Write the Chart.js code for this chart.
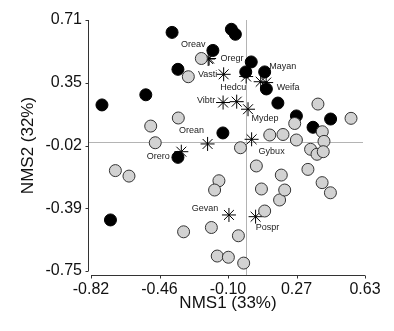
<!DOCTYPE html>
<html>
<head>
<meta charset="utf-8">
<script src="https://cdn.jsdelivr.net/npm/chart.js@4.4.1/dist/chart.umd.min.js"></script>
<style>
  html, body { margin: 0; padding: 0; background: #fff; }
</style>
</head>
<body>
<canvas id="nms" width="394" height="331"></canvas>
<script>
// plot scores, gray sites
const grayX = [-0.236, -0.305, -0.358, -0.504, -0.480, -0.691, -0.619, -0.143, -0.166, -0.330,
  -0.183, -0.040, -0.152, -0.093, -0.012, -0.029, 0.055, 0.082, 0.099, 0.178,
  0.205, 0.187, 0.126, 0.196, 0.267, 0.258, 0.381, 0.556, 0.404, 0.413,
  0.342, 0.376, 0.409, 0.328, 0.403, 0.447];
const grayY = [0.486, 0.380, 0.140, 0.093, -0.004, -0.166, -0.198, -0.225, -0.279, -0.522,
  -0.497, -0.545, -0.663, -0.670, -0.704, -0.033, -0.139, -0.273, -0.401, -0.337,
  -0.279, -0.192, 0.041, 0.044, 0.012, 0.108, 0.221, 0.138, 0.060, 0.004,
  -0.042, -0.071, -0.056, -0.159, -0.236, -0.295];

// plot scores, black sites
const blackX = [-0.391, -0.077, -0.056, -0.175, -0.360, -0.530, -0.762, 0.028, -0.001, 0.099,
  0.108, 0.169, 0.267, 0.448, 0.355, -0.122, -0.360, -0.717];
const blackY = [0.638, 0.656, 0.627, 0.533, 0.423, 0.275, 0.216, 0.466, 0.408, 0.408,
  0.309, 0.227, 0.152, 0.134, 0.086, 0.053, -0.089, -0.453];

// species scores
const speciesNames = ['Oreav', 'Oregr', 'Vasti', 'Hedcu', 'Mayan', 'Weifa', 'Vibtr', '', 'Mydep',
  'Orean', 'Orero', 'Gybux', 'Gevan', 'Pospr'];
const speciesX = [-0.200, -0.195, -0.118, 0.001, 0.078, 0.107, -0.121, -0.049, 0.011,
  -0.203, -0.342, 0.030, -0.090, 0.051];
const speciesY = [0.483, 0.486, 0.394, 0.381, 0.351, 0.346, 0.230, 0.235, 0.191,
  -0.011, -0.056, 0.016, -0.424, -0.434];

const xTicks = [-0.82, -0.4575, -0.095, 0.2675, 0.63];
const xTickLabels = ['-0.82', '-0.46', '-0.10', '0.27', '0.63'];
const yTicks = [-0.75, -0.385, -0.02, 0.345, 0.71];
const yTickLabels = ['-0.75', '-0.39', '-0.02', '0.35', '0.71'];

// where each species name sits relative to its star (px)
const labelOffsets = {
  Oreav: [-15, -15], Oregr: [23, 0], Vasti: [-16, 0], Hedcu: [-13, 11],
  Mayan: [22, -15], Weifa: [22, 5], Vibtr: [-17, -2], Mydep: [17, 9],
  Orean: [-16, -13], Orero: [-23, 5], Gybux: [20, 12], Gevan: [-24, -6], Pospr: [12, 11]
};

const FONT = '"Liberation Sans", Arial, sans-serif';
const toPoints = (xs, ys) => xs.map((v, i) => ({ x: v, y: ys[i] }));

const axesPlugin = {
  id: 'axesPlugin',
  beforeDatasetsDraw(chart) {
    const { ctx, chartArea: a, scales: { x, y } } = chart;
    const ax = Math.round(a.left) - 2.5;
    const ay = Math.round(a.bottom) + 4.5;
    // cross lines at 0, 0
    ctx.save();
    ctx.strokeStyle = '#b4b4b4';
    ctx.lineWidth = 1;
    ctx.beginPath();
    const zx = Math.round(x.getPixelForValue(0)) + 0.5;
    const zy = Math.round(y.getPixelForValue(0)) + 0.5;
    ctx.moveTo(ax, zy); ctx.lineTo(a.right - 2, zy);
    ctx.moveTo(zx, a.top); ctx.lineTo(zx, ay);
    ctx.stroke();
    // axes
    ctx.strokeStyle = '#333';
    ctx.beginPath();
    ctx.moveTo(ax, a.top); ctx.lineTo(ax, a.bottom);
    yTicks.forEach(v => {
      const py = Math.round(y.getPixelForValue(v)) + 0.5;
      ctx.moveTo(ax - 3, py); ctx.lineTo(ax, py);
    });
    ctx.moveTo(a.left, ay); ctx.lineTo(a.right, ay);
    xTicks.forEach(v => {
      const px = Math.round(x.getPixelForValue(v)) + 0.5;
      ctx.moveTo(px, ay); ctx.lineTo(px, ay + 3);
    });
    ctx.stroke();
    ctx.restore();
  },
  afterDatasetsDraw(chart) {
    const { ctx } = chart;
    const meta = chart.getDatasetMeta(2);
    ctx.save();
    ctx.font = '9px ' + FONT;
    ctx.fillStyle = '#222';
    ctx.textAlign = 'center';
    ctx.textBaseline = 'middle';
    meta.data.forEach((pt, i) => {
      const name = speciesNames[i];
      if (!name) return;
      const off = labelOffsets[name];
      ctx.fillText(name, pt.x + off[0], pt.y + off[1]);
    });
    ctx.restore();
  }
};

new Chart(document.getElementById('nms'), {
  type: 'scatter',
  data: {
    datasets: [
      {
        label: 'gray',
        data: toPoints(grayX, grayY),
        backgroundColor: '#d2d2d2',
        borderColor: '#333',
        borderWidth: 1,
        pointRadius: 6,
        order: 0
      },
      {
        label: 'black',
        data: toPoints(blackX, blackY),
        backgroundColor: '#000',
        borderColor: '#000',
        borderWidth: 1,
        pointRadius: 6,
        order: 1
      },
      {
        label: 'species',
        data: toPoints(speciesX, speciesY),
        pointStyle: 'star',
        backgroundColor: 'rgba(0,0,0,0)',
        borderColor: '#000',
        borderWidth: 1,
        pointRadius: 7,
        order: 2
      }
    ]
  },
  options: {
    responsive: false,
    animation: false,
    devicePixelRatio: 1,
    events: [],
    layout: { autoPadding: false, padding: { left: 0, top: 20, right: 29, bottom: 0 } },
    plugins: { legend: { display: false }, tooltip: { enabled: false } },
    scales: {
      x: {
        type: 'linear',
        min: -0.82,
        max: 0.63,
        afterBuildTicks: s => { s.ticks = xTicks.map(v => ({ value: v })); },
        afterFit: s => { s.height = 60; },
        grid: { display: false, drawTicks: false },
        border: { display: false },
        ticks: {
          padding: 9,
          maxRotation: 0,
          autoSkip: false,
          color: '#111',
          font: { family: FONT, size: 16 },
          callback: (v, i) => xTickLabels[i]
        },
        title: {
          display: true,
          text: 'NMS1 (33%)',
          color: '#111',
          font: { family: FONT, size: 17 },
          padding: { top: 0, bottom: 17 }
        }
      },
      y: {
        type: 'linear',
        min: -0.75,
        max: 0.71,
        afterBuildTicks: s => { s.ticks = yTicks.map(v => ({ value: v })); },
        afterFit: s => { s.width = 91; },
        grid: { display: false, drawTicks: false },
        border: { display: false },
        ticks: {
          padding: 9,
          autoSkip: false,
          color: '#111',
          font: { family: FONT, size: 16 },
          callback: (v, i) => yTickLabels[i]
        },
        title: {
          display: true,
          text: 'NMS2 (32%)',
          color: '#111',
          font: { family: FONT, size: 17 },
          padding: { top: 18, bottom: 0 }
        }
      }
    }
  },
  plugins: [axesPlugin]
});
</script>
</body>
</html>
